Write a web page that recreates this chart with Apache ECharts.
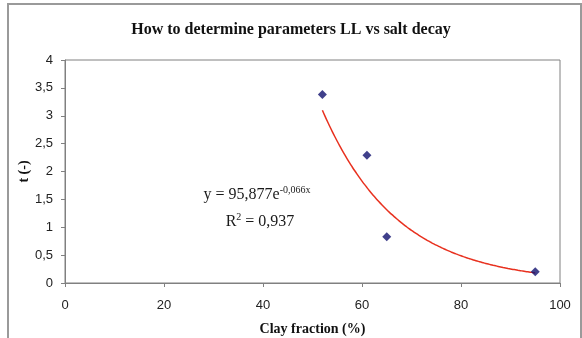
<!DOCTYPE html>
<html>
<head>
<meta charset="utf-8">
<script src="https://cdn.jsdelivr.net/npm/echarts@6/dist/echarts.min.js"></script>
<style>
  html, body { margin: 0; padding: 0; background: #fff; }
  #chart { width: 582px; height: 338px; }
</style>
</head>
<body>
<div id="chart"></div>
<script>
// measured points (clay fraction %, t)
var clayFraction = [52, 61, 65, 95];
var tValues = [3.38, 2.29, 0.83, 0.2];

// exponential trendline y = a * e^(b x), coefficients as printed on the chart
var trendA = 95.877;
var trendB = -0.066;
var r2 = 0.937;

var xTicks = [0, 20, 40, 60, 80, 100];
var yTicks = [0, 0.5, 1, 1.5, 2, 2.5, 3, 3.5, 4];

var points = clayFraction.map(function (x, i) { return [x, tValues[i]]; });

var trend = [];
var xMin = Math.min.apply(null, clayFraction);
var xMax = Math.max.apply(null, clayFraction);
for (var x = xMin; x <= xMax + 1e-9; x += 0.5) {
    trend.push([x, trendA * Math.exp(trendB * x)]);
}

var comma = function (v) { return String(v).replace('.', ','); };

var chartDom = document.getElementById('chart');
var myChart = echarts.init(chartDom);

var serifText = { fontFamily: 'Liberation Serif', fontSize: 16, fill: '#1a1a1a' };
var supText = { fontFamily: 'Liberation Serif', fontSize: 10, fill: '#1a1a1a', padding: [0, 0, 10, 0] };

var option = {
    animation: false,
    backgroundColor: '#fff',
    title: {
        text: 'How to determine parameters LL vs salt decay',
        left: 'center',
        top: 17,
        textStyle: {
            fontFamily: 'Liberation Serif',
            fontWeight: 'bold',
            fontSize: 16,
            color: '#111'
        }
    },
    grid: {
        left: 65,
        right: 22,
        top: 60,
        bottom: 55,
        outerBoundsMode: 'none',
        containLabel: false,
        show: true,
        borderColor: '#808080',
        borderWidth: 1
    },
    xAxis: {
        type: 'value',
        min: xTicks[0],
        max: xTicks[xTicks.length - 1],
        interval: 20,
        name: 'Clay fraction (%)',
        nameLocation: 'middle',
        nameGap: 39,
        nameMoveOverlap: false,
        nameTextStyle: {
            fontFamily: 'Liberation Serif',
            fontWeight: 'bold',
            fontSize: 14,
            color: '#111'
        },
        axisLine: { lineStyle: { color: '#808080' } },
        axisTick: { inside: false, length: 4, lineStyle: { color: '#808080' } },
        splitLine: { show: false },
        axisLabel: {
            margin: 16,
            fontFamily: 'Liberation Sans',
            fontSize: 13,
            color: '#222'
        }
    },
    yAxis: {
        type: 'value',
        min: yTicks[0],
        max: yTicks[yTicks.length - 1],
        interval: 0.5,
        name: 't (-)',
        nameLocation: 'middle',
        nameGap: 34,
        nameMoveOverlap: false,
        nameTextStyle: {
            fontFamily: 'Liberation Serif',
            fontWeight: 'bold',
            fontSize: 14,
            color: '#111'
        },
        axisLine: { show: true, lineStyle: { color: '#808080' } },
        axisTick: { show: true, length: 4, lineStyle: { color: '#808080' } },
        splitLine: { show: false },
        axisLabel: {
            margin: 12,
            fontFamily: 'Liberation Sans',
            fontSize: 13,
            color: '#222',
            formatter: comma
        }
    },
    graphic: [
        {
            type: 'rect',
            shape: { x: 8, y: 4, width: 573, height: 345 },
            style: { fill: 'none', stroke: '#9a9a9a', lineWidth: 2 },
            z: -1
        },
        {
            type: 'text',
            x: 257,
            y: 195,
            style: {
                text: '{b|y = 95,877e}{s|-0,066x}',
                align: 'center',
                verticalAlign: 'middle',
                rich: { b: serifText, s: supText }
            }
        },
        {
            type: 'text',
            x: 260,
            y: 222,
            style: {
                text: '{b|R}{s|2}{b| = ' + comma(r2) + '}',
                align: 'center',
                verticalAlign: 'middle',
                rich: { b: serifText, s: supText }
            }
        }
    ],
    series: [
        {
            name: 'trend',
            type: 'line',
            data: trend,
            showSymbol: false,
            smooth: true,
            lineStyle: { color: '#e8311f', width: 1.5 },
            z: 2
        },
        {
            name: 't',
            type: 'scatter',
            data: points,
            symbol: 'diamond',
            symbolSize: 9,
            itemStyle: { color: '#10106e' },
            z: 3
        }
    ]
};

myChart.setOption(option);
</script>
</body>
</html>
